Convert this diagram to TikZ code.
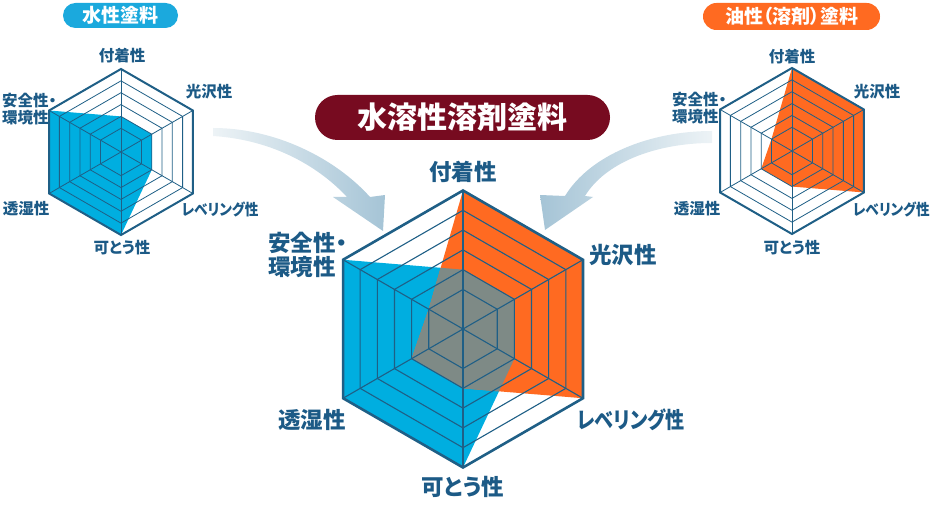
\documentclass[tikz,border=0pt]{standalone}
\usepackage{fontspec}
\newfontfamily\jpfont{Noto Sans CJK JP}[RawFeature=+palt]

\definecolor{gridblue}{HTML}{1F5F86}
\definecolor{labelblue}{HTML}{1C5A86}
\definecolor{waterblue}{HTML}{00AEE0}
\definecolor{oilorange}{HTML}{FF6A21}
\definecolor{mixgray}{HTML}{7E8A86}
\definecolor{titlered}{HTML}{770B20}
\definecolor{pillblue}{HTML}{1BA9DD}
\definecolor{arrowlight}{HTML}{EDF3F6}
\definecolor{arrowdark}{HTML}{A5C4D6}

% hexagon through the six axes, #1 = step, #2..#7 = values
\newcommand{\hexpath}[7]{(90:{#1*#2}) -- (30:{#1*#3}) -- (-30:{#1*#4}) -- (-90:{#1*#5}) -- (210:{#1*#6}) -- (150:{#1*#7}) -- cycle}
% rings, spokes and rim, #1 = radius
\newcommand{\radargrid}[3]{%
  \foreach \k in {2,...,7} {\draw[gridline, line width=#2] \hexpath{#1/7}{\k}{\k}{\k}{\k}{\k}{\k};}
  \foreach \a in {90,30,-30,-90,210,150} {\draw[gridline, line width=#2] (0,0) -- (\a:#1);}
  \draw[rimline, line width=#3] \hexpath{#1/7}{7}{7}{7}{7}{7}{7};
}
% narrower katakana label
\newcommand{\levelling}[1]{\scalebox{#1}[1]{レベリング性}}

\tikzset{
  gridline/.style={draw=gridblue},
  rimline/.style={draw=gridblue, line join=miter},
  axislabel/.style={text=labelblue, inner sep=0pt, align=left,
    font=\jpfont\bfseries\fontsize{15.5}{17}\selectfont},
  biglabel/.style={axislabel, font=\jpfont\bfseries\fontsize{22.5}{24}\selectfont},
  pill/.style={text=white, inner sep=0pt, font=\jpfont\bfseries\fontsize{19}{20}\selectfont},
}

\begin{document}
\begin{tikzpicture}[x=1pt, y=1pt]
  \useasboundingbox (0,0) rectangle (931,519);
  \coordinate (water) at (121,367);
  \coordinate (oil) at (792,368);
  \coordinate (mix) at (463,190);

  % arrows into the middle chart
  \shade[left color=arrowlight, right color=arrowdark]
    (213,391) .. controls (275,391) and (335,361) .. (370,322) -- (385,324) -- (383,288)
    -- (333,322) -- (347,322) .. controls (320,351) and (275,379) .. (213,383) -- cycle;
  \shade[left color=arrowdark, right color=arrowlight]
    (712,388) .. controls (650,388) and (590,364) .. (565,323) -- (540,324) -- (545,289)
    -- (593,322) -- (585,323) .. controls (605,356) and (655,376) .. (712,376) -- cycle;

  % water-based
  \begin{scope}[shift={(water)}]
    \fill[waterblue] \hexpath{83/7}{3}{3}{3}{7}{7}{7};
    \radargrid{83}{0.8pt}{2pt}
  \end{scope}

  % oil-based
  \begin{scope}[shift={(oil)}]
    \fill[oilorange] \hexpath{83/7}{7}{7}{7}{3}{3}{2};
    \radargrid{83}{0.8pt}{2pt}
  \end{scope}

  % water-soluble solvent
  \begin{scope}[shift={(mix)}]
    \fill[waterblue] \hexpath{138.5/7}{3}{3}{3}{7}{7}{7};
    \fill[oilorange] \hexpath{138.5/7}{7}{7}{7}{3}{3}{2};
    \begin{scope}
      \clip \hexpath{138.5/7}{3}{3}{3}{7}{7}{7};
      \fill[mixgray] \hexpath{138.5/7}{7}{7}{7}{3}{3}{2};
    \end{scope}
    \radargrid{138.5}{1.1pt}{2.6pt}
  \end{scope}

  % titles
  \node[pill, fill=pillblue, rounded corners=12.5pt, minimum width=115pt, minimum height=25pt]
    (watertitle) at (120.5,503.5) {水性塗料};
  \node[pill, fill=oilorange, rounded corners=13.5pt, minimum width=177pt, minimum height=27pt]
    (oiltitle) at (791.5,502.5) {油性（溶剤）塗料};
  \node[pill, fill=titlered, rounded corners=22.5pt, minimum width=295pt, minimum height=45pt,
    font=\jpfont\bfseries\fontsize{30}{32}\selectfont]
    (mixtitle) at (462.5,401.5) {水溶性溶剤塗料};

  % labels, water-based
  \node[axislabel] (water-adh) at (122,463) {付着性};
  \node[axislabel] (water-gloss) at (209,427) {光沢性};
  \node[axislabel] (water-level) at (220,310) {\levelling{0.88}};
  \node[axislabel] (water-flex) at (122,271) {可とう性};
  \node[axislabel] (water-perm) at (26,310) {透湿性};
  \node[axislabel, anchor=west] (water-safe) at (2,410) {安全性・\\環境性};

  % labels, oil-based
  \node[axislabel] (oil-adh) at (792,462) {付着性};
  \node[axislabel] (oil-gloss) at (877,427) {光沢性};
  \node[axislabel, anchor=east] (oil-level) at (930,310) {\levelling{0.88}};
  \node[axislabel] (oil-flex) at (792,271) {可とう性};
  \node[axislabel] (oil-perm) at (697,310) {透湿性};
  \node[axislabel, anchor=west] (oil-safe) at (672,410.5) {安全性・\\環境性};

  % labels, water-soluble solvent
  \node[biglabel] (mix-adh) at (463,347) {付着性};
  \node[biglabel] (mix-gloss) at (623,264) {光沢性};
  \node[biglabel] (mix-level) at (631,99) {\levelling{0.85}};
  \node[biglabel] (mix-flex) at (463,32) {可とう性};
  \node[biglabel] (mix-perm) at (312,99) {透湿性};
  \node[biglabel, anchor=west] (mix-safe) at (268,264) {安全性・\\環境性};
\end{tikzpicture}
\end{document}
